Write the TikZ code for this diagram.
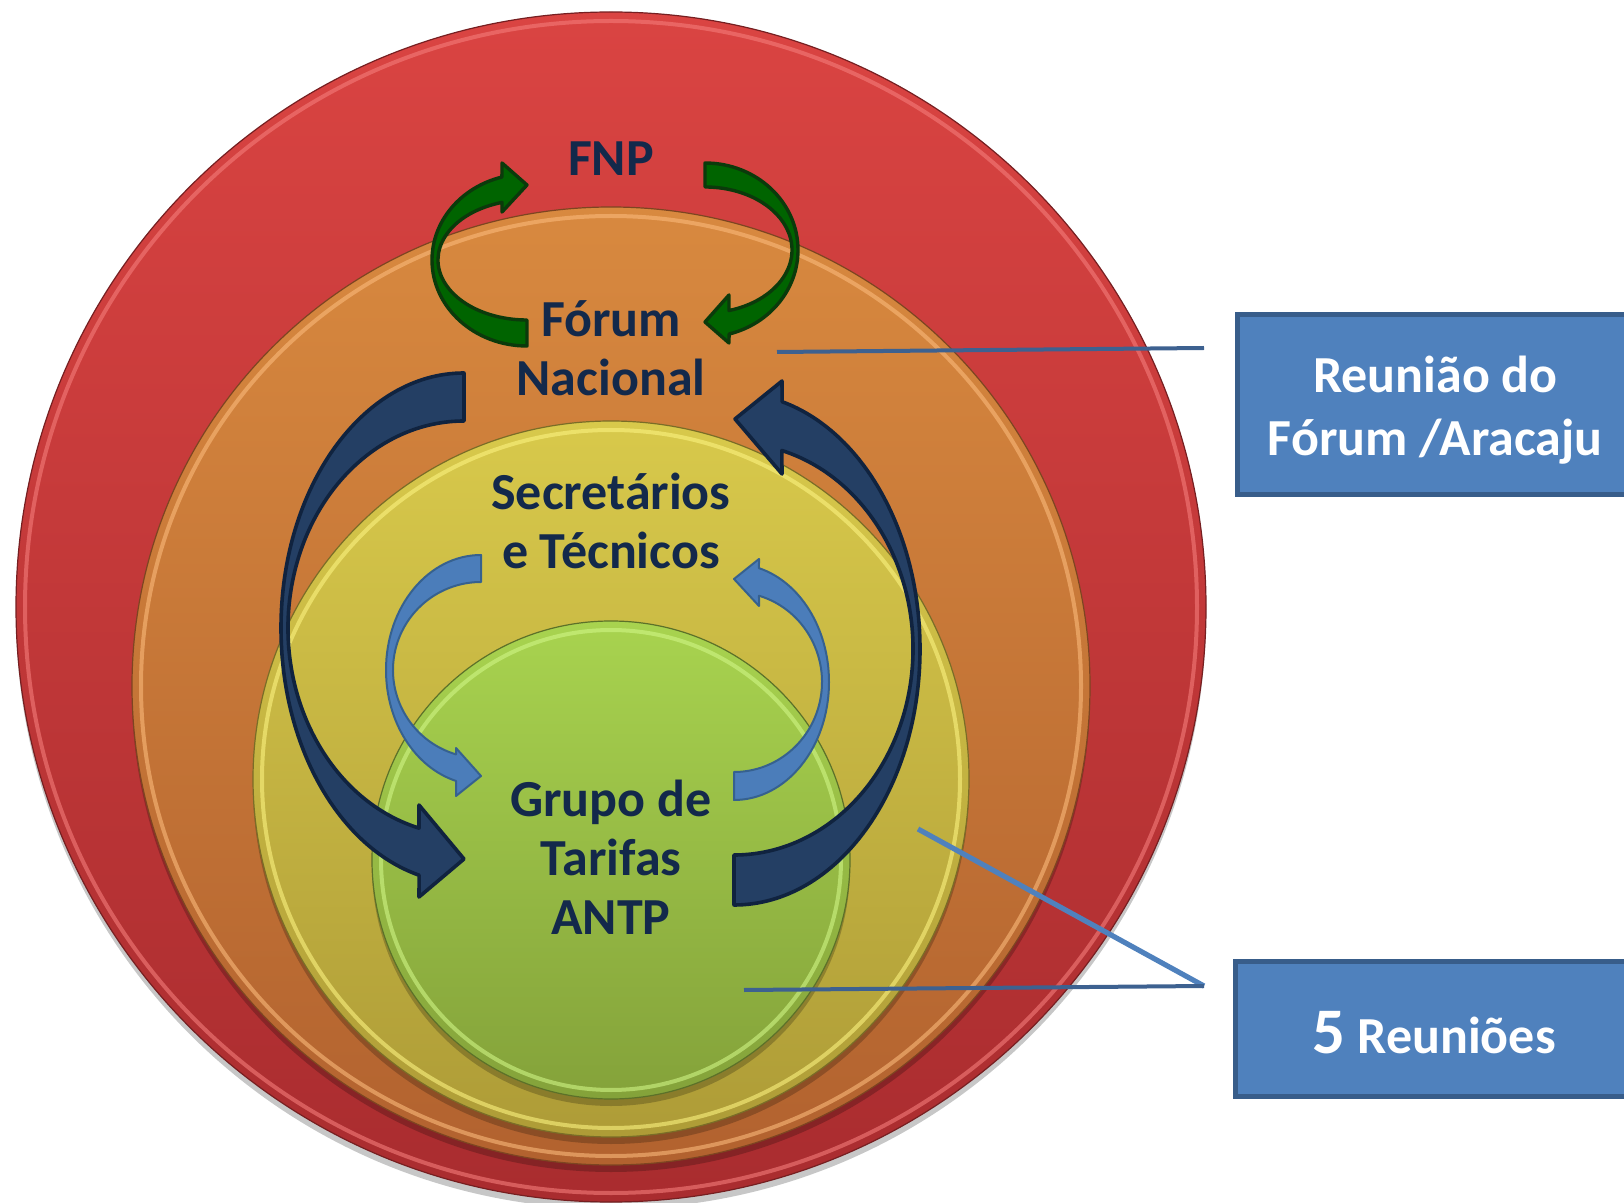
\documentclass[tikz,border=0pt]{standalone}
\usepackage{fontspec}
\setmainfont{Carlito}
\usetikzlibrary{calc}

% ring colours
\definecolor{redtop}{HTML}{DA4442}
\definecolor{redbot}{HTML}{A92C2F}
\definecolor{redhi}{HTML}{F47C7A}
\definecolor{ortop}{HTML}{D8893F}
\definecolor{orbot}{HTML}{B2622F}
\definecolor{orhi}{HTML}{FAB97A}
\definecolor{yetop}{HTML}{D8C94B}
\definecolor{yebot}{HTML}{AE9C37}
\definecolor{yehi}{HTML}{FBF27F}
\definecolor{grtop}{HTML}{A8D34F}
\definecolor{grbot}{HTML}{84A23A}
\definecolor{grhi}{HTML}{CFF585}
% arrows, text and boxes
\definecolor{txtnavy}{HTML}{13294B}
\definecolor{arrgreen}{HTML}{006400}
\definecolor{arrgreenedge}{HTML}{0B3A0B}
\definecolor{arrnavy}{HTML}{243F64}
\definecolor{arrnavyedge}{HTML}{10233F}
\definecolor{arrblue}{HTML}{4B7DBA}
\definecolor{arrblueedge}{HTML}{36618F}
\definecolor{boxblue}{HTML}{4F81BD}
\definecolor{boxedge}{HTML}{385D8A}
\definecolor{cLinkDark}{HTML}{3D6190}

\begin{document}
\begin{tikzpicture}[x=0.5pt,y=-0.5pt,
    ringtext/.style={text=txtnavy,font=\bfseries\fontsize{26}{29.5}\selectfont,
      align=center,anchor=base,inner sep=0pt},
    infobox/.style={draw=boxedge,line width=2.5pt,fill=boxblue,text=white,
      font=\bfseries\fontsize{26}{31.5}\selectfont,align=center,inner sep=0pt},
    bandgreen/.style={fill=arrgreen,draw=arrgreenedge,line width=1.7pt,line join=round},
    bandnavy/.style={fill=arrnavy,draw=arrnavyedge,line width=1.8pt,line join=round},
    bandblue/.style={fill=arrblue,draw=arrblueedge,line width=1pt,line join=round},
    linkline/.style={cLinkDark,line width=2pt},
    linklight/.style={boxblue,line width=2.6pt}]

    \path [use as bounding box,clip] (0,0) rectangle (1624,1203);

    % Draw the four discs, biggest first
    \foreach \cy/\rad/\ctop/\cbot/\clit in {607/595/redtop/redbot/redhi,
        686/479/ortop/orbot/orhi, 779/358/yetop/yebot/yehi,
        860/239/grtop/grbot/grhi} {
      \fill [black,opacity=0.22] (611,\cy+7) circle [radius=\rad];
      \draw [top color=\ctop,bottom color=\cbot,draw=\cbot!70!black,line width=0.6pt]
        (611,\cy) circle [radius=\rad];
      \draw [\clit,line width=2pt,opacity=0.6] (611,\cy) circle [radius=\rad-9];
    }

    % Leader lines to the boxes
    \coordinate (forumtip) at (777,352);
    \coordinate (forumend) at (1204,348);
    \coordinate (yellowpt) at (918,829);
    \coordinate (greenpt) at (744,990);
    \coordinate (meettip) at (1204,986);
    \draw [linkline] (forumtip) -- (forumend);
    \draw [linklight] (yellowpt) -- (meettip);
    \draw [linkline] (greenpt) -- (meettip);

    % Green arrows: FNP <-> Forum
    \coordinate (gl) at (527,260);
    \coordinate (gr) at (705,250);
    \filldraw [bandgreen] ($(gl)+(90:95 and 86)$)
      arc [start angle=90,end angle=254.7,x radius=95,y radius=86]
      -- (502,163) -- (527,185) -- (502,212) -- ($(gl)+(253.7:89 and 60)$)
      arc [start angle=253.7,end angle=90,x radius=89,y radius=60] -- cycle;
    \filldraw [bandgreen] ($(gr)+(-90:93 and 87)$)
      arc [start angle=-90,end angle=75,x radius=93,y radius=87]
      -- (729,343) -- (705,322) -- (729,295) -- ($(gr)+(74:87 and 63)$)
      arc [start angle=74,end angle=-90,x radius=87,y radius=63] -- cycle;

    % Navy arrows: Forum <-> Grupo
    \coordinate (nl) at (464,628);
    \coordinate (nr) at (734,649);
    \filldraw [bandnavy] ($(nl)+(270:183 and 255)$)
      arc [start angle=270,end angle=104.2,x radius=183,y radius=255]
      -- (419,897) -- (464,859) -- (419,805) -- ($(nl)+(104.8:176 and 207)$)
      arc [start angle=104.8,end angle=270,x radius=176,y radius=207] -- cycle;
    \filldraw [bandnavy] ($(nr)+(90:186 and 256)$)
      arc [start angle=90,end angle=-75,x radius=186,y radius=256]
      -- (782,381) -- (735,419) -- (782,474) -- ($(nr)+(-74.5:179 and 206)$)
      arc [start angle=-74.5,end angle=90,x radius=179,y radius=206] -- cycle;

    % Light blue arrows: Secretarios <-> Grupo
    \coordinate (bl) at (481,670);
    \coordinate (br) at (734,682);
    \filldraw [bandblue] ($(bl)+(270:95 and 115)$)
      arc [start angle=270,end angle=105.25,x radius=95,y radius=115]
      -- (456,796) -- (481,776) -- (456,748) -- ($(bl)+(106.5:88 and 88)$)
      arc [start angle=106.5,end angle=270,x radius=88,y radius=88] -- cycle;
    \filldraw [bandblue] ($(br)+(90:95 and 118)$)
      arc [start angle=90,end angle=-74.75,x radius=95,y radius=118]
      -- (759,559) -- (734,579) -- (759,606) -- ($(br)+(-73.5:88 and 90)$)
      arc [start angle=-73.5,end angle=90,x radius=88,y radius=90] -- cycle;

    % Labels of the rings (base = last line)
    \node [ringtext] (fnp) at (611,176) {FNP};
    \node [ringtext] (forum) at (611,396) {Fórum\\Nacional};
    \node [ringtext] (secr) at (611,569) {Secretários\\e Técnicos};
    \node [ringtext] (grupo) at (611,934) {Grupo de\\Tarifas\\ANTP};

    % Boxes on the right
    \node [infobox,minimum width=197.75pt,minimum height=90pt] (forumbox)
      at (1435.25,404.5) {\rule{0pt}{24.2pt}Reunião do\\Fórum /Aracaju};
    \node [infobox,minimum width=198.75pt,minimum height=67.5pt] (meetbox)
      at (1434.25,1029) {\rule{0pt}{25pt}{\fontsize{32.5}{36}\selectfont 5} Reuniões};

\end{tikzpicture}
\end{document}
